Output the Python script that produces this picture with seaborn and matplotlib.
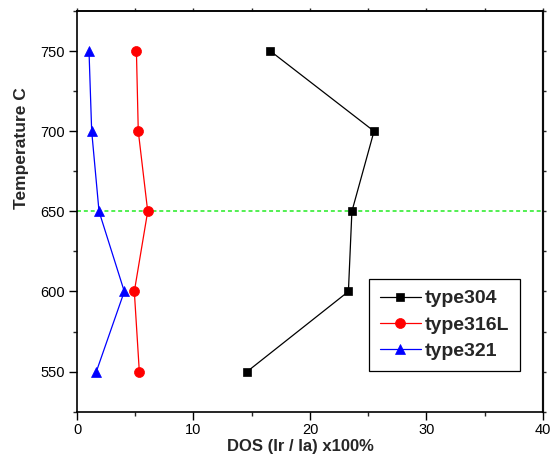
import matplotlib
matplotlib.use("Agg")
import matplotlib.pyplot as plt
from matplotlib.ticker import MultipleLocator
import seaborn as sns
import pandas as pd

# Degree of sensitization (Ir/Ia x100%) at each sensitizing temperature
temperatures = [550, 600, 650, 700, 750]
dos_304 = [14.6, 23.3, 23.6, 25.5, 16.6]
dos_316l = [5.35, 4.92, 6.07, 5.26, 5.1]
dos_321 = [1.66, 4.06, 1.89, 1.26, 1.03]
series_names = ["type304", "type316L", "type321"]

sns.set_style("ticks")
plt.rcParams["font.family"] = ["Liberation Sans", "DejaVu Sans"]

rows = []
for name, vals in zip(series_names, [dos_304, dos_316l, dos_321]):
    for t, v in zip(temperatures, vals):
        rows.append({"type": name, "dos": v, "temp": t})
df = pd.DataFrame(rows)

fig = plt.figure(figsize=(5.56, 4.54), dpi=100)
ax = fig.add_axes([0.1385, 0.0932, 0.838, 0.8826])

styles = {
    "type304": dict(color="black", marker="s", ms=6),
    "type316L": dict(color="red", marker="o", ms=7.2),
    "type321": dict(color="blue", marker="^", ms=7.8),
}
for name in series_names:
    st = styles[name]
    sub = df[df["type"] == name]
    sns.lineplot(data=sub, x="dos", y="temp", orient="y", sort=False, ax=ax,
                 color=st["color"], marker=st["marker"], markersize=st["ms"],
                 markeredgecolor=st["color"], markeredgewidth=0.5,
                 linewidth=0.9, label=name)

# reference line at 650 C
ax.axhline(650, color="#44ee44", linestyle=(0, (2.2, 1.6)), linewidth=1.3, zorder=0)

ax.set_xlim(0, 40)
ax.set_ylim(525, 775)
ax.xaxis.set_major_locator(MultipleLocator(10))
ax.xaxis.set_minor_locator(MultipleLocator(5))
ax.yaxis.set_major_locator(MultipleLocator(50))
ax.yaxis.set_minor_locator(MultipleLocator(25))

ax.tick_params(axis="both", which="major", direction="out", length=5.5, width=1,
               labelsize=10.5, colors="black", pad=3,
               top=False, right=False)
ax.tick_params(axis="both", which="minor", direction="out", length=3, width=1,
               top=False, right=False)

# secondary axes carry the unlabeled ticks on the top and right sides
top = ax.secondary_xaxis("top")
top.xaxis.set_major_locator(MultipleLocator(5))
top.tick_params(direction="out", length=2.5, width=1, labeltop=False)
top.spines["top"].set_linewidth(1.2)
right = ax.secondary_yaxis("right")
right.yaxis.set_major_locator(MultipleLocator(25))
right.tick_params(direction="out", length=2.5, width=1, labelright=False)
right.spines["right"].set_linewidth(1.6)
right.spines["right"].set_color("#444444")

for s in ax.spines.values():
    s.set_visible(True)
    s.set_linewidth(1.2)
    s.set_color("black")

ax.set_xlabel("DOS (Ir / Ia) x100%", fontsize=12, fontweight="bold")
ax.set_ylabel("Temperature C", fontsize=12.5, fontweight="bold")
ax.xaxis.set_label_coords(0.479, -0.068)
ax.yaxis.set_label_coords(-0.103, 0.658)

leg = ax.legend(loc="upper left", bbox_to_anchor=(0.627, 0.331), frameon=True,
                fancybox=False, shadow=False, framealpha=1, edgecolor="black",
                prop={"weight": "bold", "size": 14}, handlelength=2.1,
                handletextpad=0.2, labelspacing=0.45, borderpad=0.55,
                borderaxespad=0)
leg.get_frame().set_linewidth(0.9)

fig.savefig("out.png", dpi=100)
